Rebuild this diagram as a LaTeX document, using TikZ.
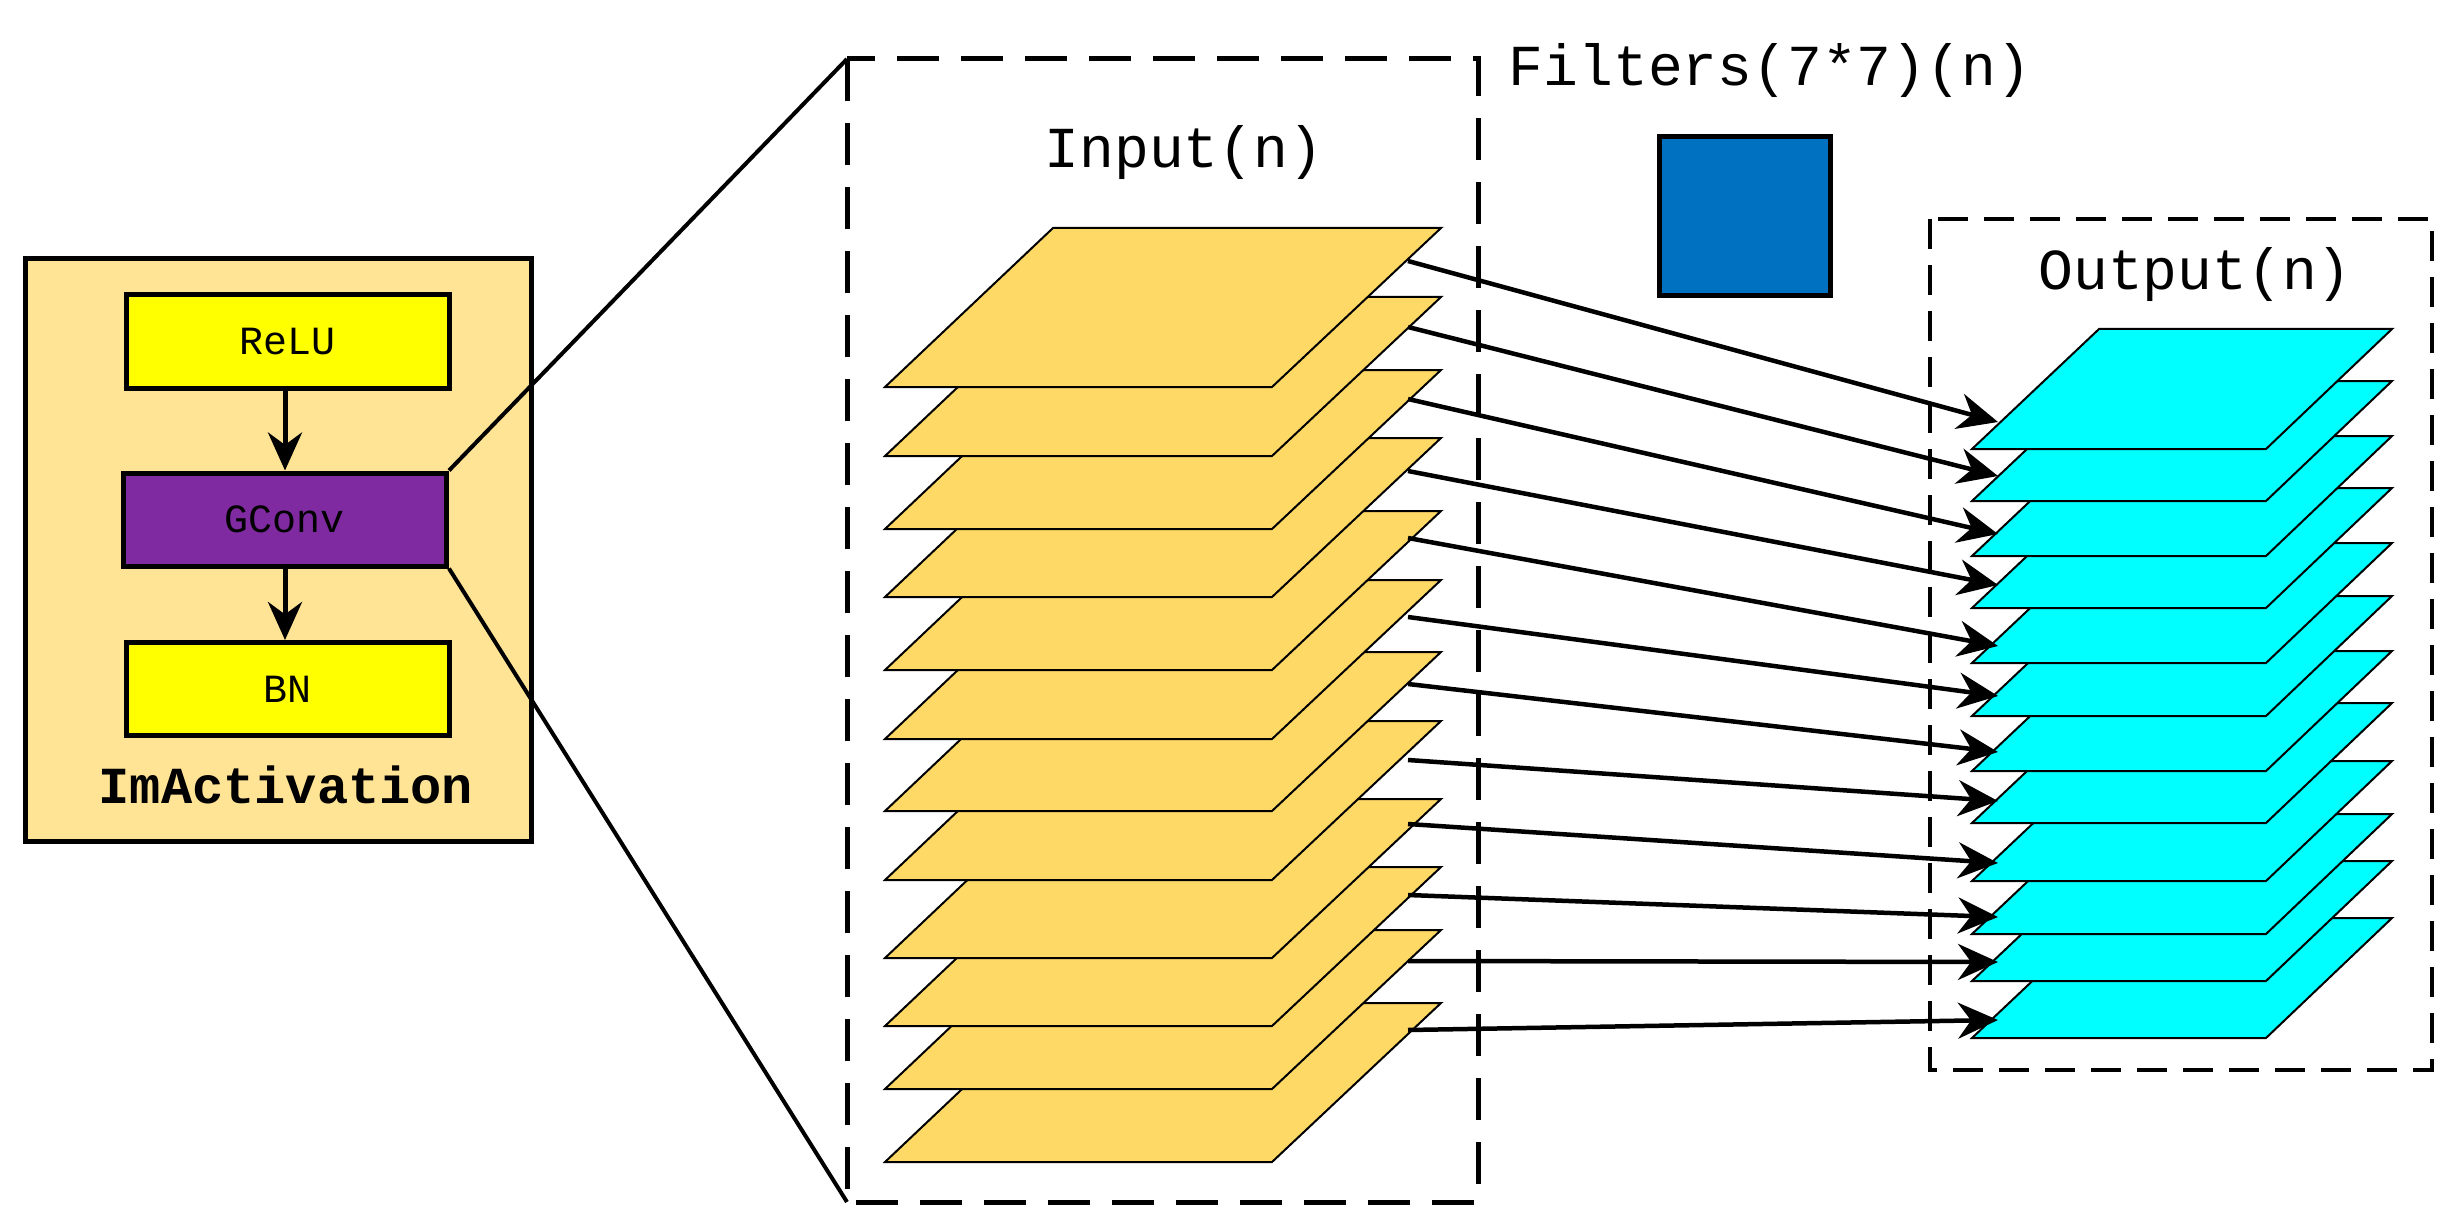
\documentclass[tikz,border=0pt]{standalone}
\usepackage{fontspec}
\setmainfont{Liberation Serif}
\newfontfamily\mono{Liberation Mono}
\usetikzlibrary{arrows.meta}
\definecolor{bgy}{HTML}{FFE496}
\definecolor{pl}{HTML}{FFD966}
\definecolor{purp}{HTML}{7F2AA0}
\definecolor{blu}{HTML}{0070C0}
\definecolor{cyn}{HTML}{00FFFF}
\definecolor{yel}{HTML}{FFFF00}
\begin{document}
\begin{tikzpicture}[x=1pt,y=-1pt,
  blk/.style={draw,line width=5pt,minimum width=323pt,minimum height=93pt,inner sep=0pt,font=\mono\fontsize{40}{40}\selectfont},
  arr/.style={line width=4.5pt,-{Stealth[length=40pt,width=36pt]}},
  inp/.style={fill=pl,draw=black,line width=2pt},
  outp/.style={fill=cyn,draw=black,line width=2pt}]
\useasboundingbox (0,0) rectangle (2462,1214);
\node[draw,line width=5pt,fill=bgy,minimum width=506pt,minimum height=582pt,inner sep=0pt] (act) at (278,550) {};
\node[blk,fill=yel] (relu) at (287.5,341.5) {ReLU};
\node[blk,fill=purp] (gconv) at (285,519.5) {GConv};
\node[blk,fill=yel] (bn) at (287.5,689) {BN};
\node[font=\mono\bfseries\fontsize{52}{52}\selectfont] (lab) at (286,785) {ImActivation};
\draw[line width=5pt,-{Stealth[length=38pt,width=34pt]}] (relu.south -| gconv.north) -- (gconv.north);
\draw[line width=5pt,-{Stealth[length=38pt,width=34pt]}] (gconv.south) -- (gconv.south |- bn.north);
% input box
\coordinate (ib1) at (847,59); \coordinate (ib2) at (847,1202);
\draw[line width=5pt,dash pattern=on 42pt off 22pt] (ib1) rectangle (1478,1202);
\draw[line width=4pt] (gconv.north east) -- (ib1);
\draw[line width=4pt] (gconv.south east) -- (ib2);
\node[font=\mono\fontsize{58}{58}\selectfont] (tin) at (1184,153) {Input(n)};
\foreach \b [count=\i] in {1162,1089,1026,958,880,811,739,670,597,529,456,387}{
  \draw[inp] (885,\b) -- (1272,\b) -- (1441,\b-159) -- (1053,\b-159) -- cycle;
}
% filters
\node[font=\mono\fontsize{58}{58}\selectfont] (tf) at (1770,71) {Filters(7*7)(n)};
\node[draw,line width=5pt,fill=blu,minimum width=171pt,minimum height=159pt,inner sep=0pt] (sq) at (1744.5,216.5) {};
% output box
\draw[line width=4pt,dash pattern=on 30pt off 16pt] (1930,219) rectangle (2432,1070);
\node[font=\mono\fontsize{58}{58}\selectfont] (tout) at (2195,275) {Output(n)};
\foreach \b in {1038,981,934,881,823,771,716,663,608,556,501,449}{
  \draw[outp] (1972,\b) -- (2266,\b) -- (2392,\b-120) -- (2099,\b-120) -- cycle;
}
% arrows
\foreach \sy/\ey [count=\i] in {261/422,327/476,399/534,471/585,538/646,617/696,684/752,760/801,824/863,895/917,961/962,1030/1020}{
  \coordinate (s\i) at (1408,\sy);
  \coordinate (e\i) at (1998,\ey);
  \draw[arr] (s\i) -- (e\i);
}
\end{tikzpicture}
\end{document}
